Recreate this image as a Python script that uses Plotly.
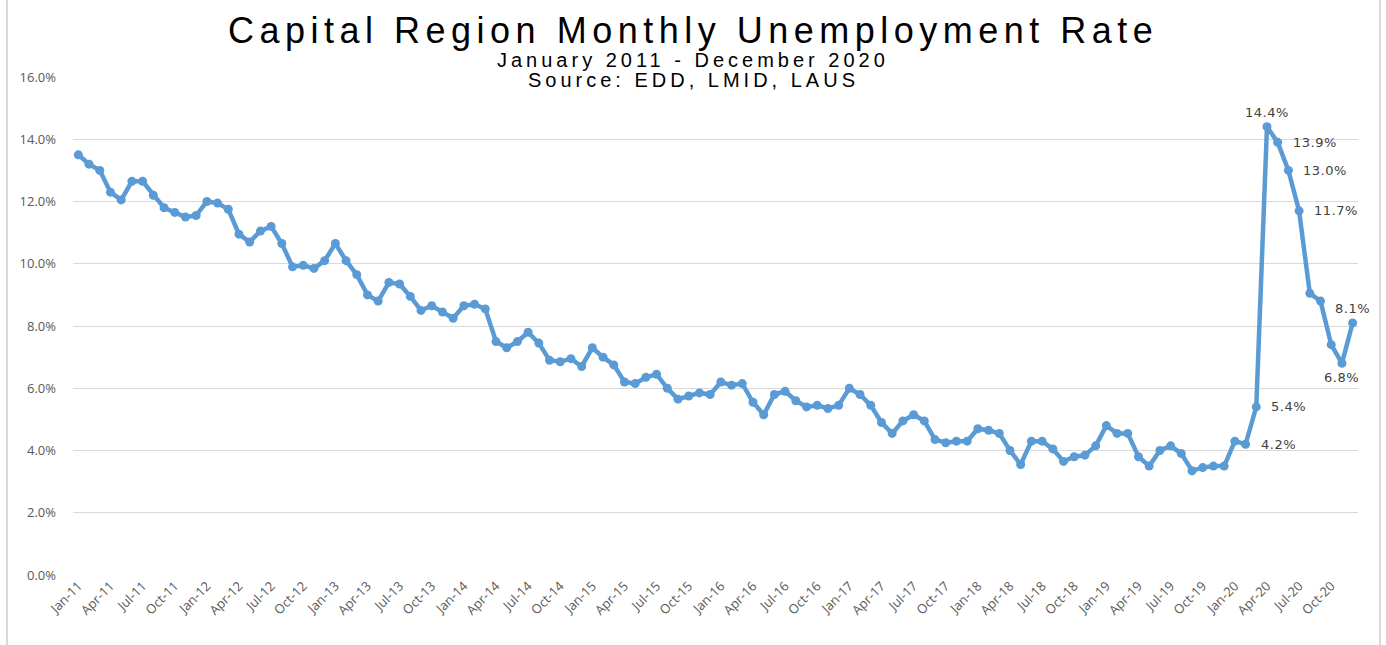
import plotly.graph_objects as go

months = ["Jan", "Feb", "Mar", "Apr", "May", "Jun", "Jul", "Aug", "Sep", "Oct", "Nov", "Dec"]
years = [11, 12, 13, 14, 15, 16, 17, 18, 19, 20]
categories = [f"{m}-{y}" for y in years for m in months]

rate_2011 = [13.5, 13.2, 13.0, 12.3, 12.05, 12.65, 12.65, 12.2, 11.8, 11.65, 11.5, 11.55]
rate_2012 = [12.0, 11.95, 11.75, 10.95, 10.7, 11.05, 11.2, 10.65, 9.9, 9.95, 9.85, 10.1]
rate_2013 = [10.65, 10.1, 9.65, 9.0, 8.8, 9.4, 9.35, 8.95, 8.5, 8.65, 8.45, 8.25]
rate_2014 = [8.65, 8.7, 8.55, 7.5, 7.3, 7.5, 7.8, 7.45, 6.9, 6.85, 6.95, 6.7]
rate_2015 = [7.3, 7.0, 6.75, 6.2, 6.15, 6.35, 6.45, 6.0, 5.65, 5.75, 5.85, 5.8]
rate_2016 = [6.2, 6.1, 6.15, 5.55, 5.15, 5.8, 5.9, 5.6, 5.4, 5.45, 5.35, 5.45]
rate_2017 = [6.0, 5.8, 5.45, 4.9, 4.55, 4.95, 5.15, 4.95, 4.35, 4.25, 4.3, 4.3]
rate_2018 = [4.7, 4.65, 4.55, 4.0, 3.55, 4.3, 4.3, 4.05, 3.65, 3.8, 3.85, 4.15]
rate_2019 = [4.8, 4.55, 4.55, 3.8, 3.5, 4.0, 4.15, 3.9, 3.35, 3.45, 3.5, 3.5]
rate_2020 = [4.3, 4.2, 5.4, 14.4, 13.9, 13.0, 11.7, 9.05, 8.8, 7.4, 6.8, 8.1]

rates = (rate_2011 + rate_2012 + rate_2013 + rate_2014 + rate_2015 +
         rate_2016 + rate_2017 + rate_2018 + rate_2019 + rate_2020)

# points with data labels and where their label sits
label_points = ["Feb-20", "Mar-20", "Apr-20", "May-20", "Jun-20", "Jul-20", "Nov-20", "Dec-20"]
label_sides = ["right", "right", "top", "right", "right", "right", "bottom", "top"]

tick_cats = categories[::3]
y_ticks = [0, 2, 4, 6, 8, 10, 12, 14, 16]
y_ticktext = [f"{v:.1f}%" for v in y_ticks]

line_color = "#5B9BD5"

fig = go.Figure()
fig.add_trace(go.Scatter(
    x=categories, y=rates, mode="lines+markers",
    line=dict(color=line_color, width=4.5),
    marker=dict(color=line_color, size=9),
    hoverinfo="x+y", showlegend=False,
))

for cat, side in zip(label_points, label_sides):
    v = rates[categories.index(cat)]
    txt = f'<span style="letter-spacing:0.5px">{v:.1f}%</span>'
    if side == "right":
        fig.add_annotation(x=cat, y=v, text=txt, showarrow=False, xanchor="left",
                           yanchor="middle", xshift=13)
    elif side == "top":
        fig.add_annotation(x=cat, y=v, text=txt, showarrow=False, xanchor="center",
                           yanchor="bottom", yshift=5)
    else:
        fig.add_annotation(x=cat, y=v, text=txt, showarrow=False, xanchor="center",
                           yanchor="top", yshift=-5)
fig.update_annotations(font=dict(family="DejaVu Sans", size=13, color="#404040"))

title_font = "Liberation Sans, Arial, sans-serif"
fig.add_annotation(xref="paper", yref="paper", x=0.4825, y=1, yshift=47, yanchor="middle",
                   text='<span style="letter-spacing:5.5px">Capital Region Monthly Unemployment Rate</span>',
                   showarrow=False, font=dict(family=title_font, size=36, color="#000000"))
fig.add_annotation(xref="paper", yref="paper", x=0.4825, y=1, yshift=17, yanchor="middle",
                   text='<span style="letter-spacing:4px">January 2011 - December 2020</span>',
                   showarrow=False, font=dict(family=title_font, size=20, color="#000000"))
fig.add_annotation(xref="paper", yref="paper", x=0.4825, y=1, yshift=-3, yanchor="middle",
                   text='<span style="letter-spacing:4px">Source: EDD, LMID, LAUS</span>',
                   showarrow=False, font=dict(family=title_font, size=20, color="#000000"))

# chart frame
fig.add_shape(type="line", xref="paper", yref="paper", x0=-0.0514, x1=-0.0514, y0=-0.2, y1=1.2,
              line=dict(color="#D9D9D9", width=2))
fig.add_shape(type="line", xref="paper", yref="paper", x0=1.0171, x1=1.0171, y0=-0.2, y1=1.2,
              line=dict(color="#D9D9D9", width=2))

fig.update_layout(
    width=1386, height=645,
    margin=dict(l=73, r=28, t=77, b=70),
    paper_bgcolor="white", plot_bgcolor="white",
    font=dict(family="Open Sans", color="#595959", size=12),
    xaxis=dict(
        type="category", range=[-0.5, len(categories) - 0.5],
        tickmode="array", tickvals=tick_cats, ticktext=tick_cats,
        tickangle=-45, showgrid=False, showline=False, zeroline=False,
        tickfont=dict(size=13, color="#595959"), ticks="",
    ),
    yaxis=dict(
        range=[0, 16], tickvals=y_ticks, ticktext=y_ticktext,
        showgrid=True, gridcolor="#D9D9D9", gridwidth=1, zeroline=False,
        showline=False, tickfont=dict(size=13, color="#595959"), ticklabelstandoff=16,
    ),
)

fig.write_html("out.html", config={"displayModeBar": False},
               post_script="document.body.style.margin='0';")
